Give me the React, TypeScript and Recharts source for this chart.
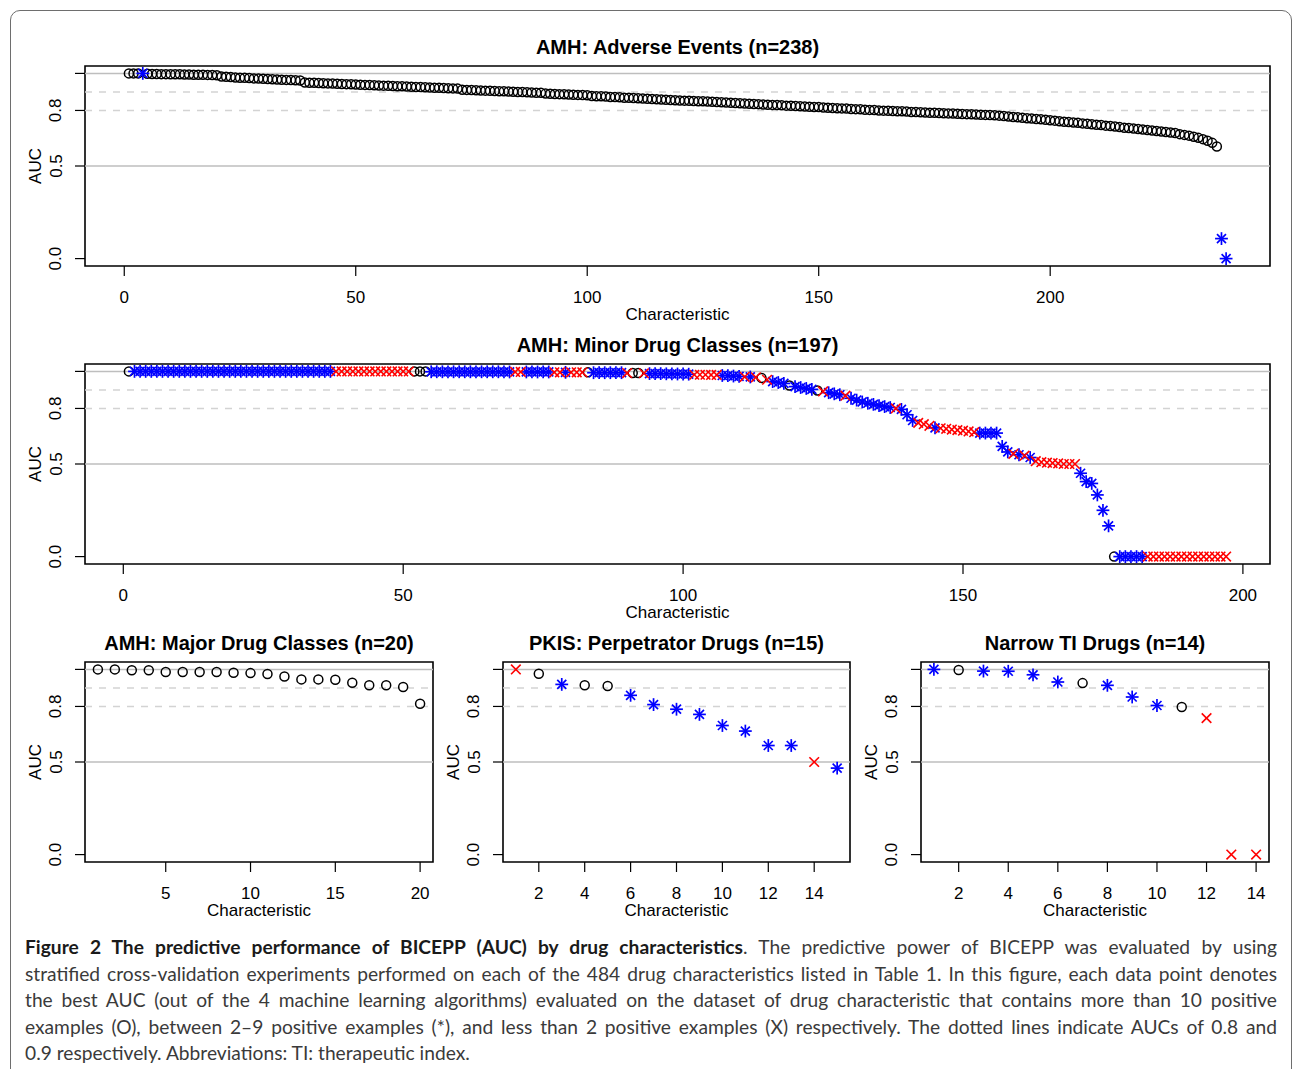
import React from 'react';
import { ScatterChart, Scatter, XAxis, YAxis, ReferenceLine, ReferenceArea } from 'recharts';

// AMH: Adverse Events, sorted AUC per characteristic
const adverseAuc = [
  1.000, 1.000, 1.000, 1.000, 0.998, 0.997, 0.997, 0.996, 0.996, 0.995,
  0.995, 0.995, 0.994, 0.994, 0.993, 0.993, 0.993, 0.992, 0.991, 0.990,
  0.983, 0.982, 0.980, 0.978, 0.977, 0.976, 0.975, 0.973, 0.972, 0.971,
  0.970, 0.968, 0.967, 0.966, 0.965, 0.964, 0.963, 0.962, 0.951, 0.950,
  0.949, 0.948, 0.947, 0.946, 0.945, 0.944, 0.943, 0.942, 0.941, 0.940,
  0.939, 0.938, 0.937, 0.936, 0.935, 0.934, 0.933, 0.932, 0.931, 0.930,
  0.929, 0.928, 0.927, 0.926, 0.925, 0.924, 0.923, 0.922, 0.921, 0.920,
  0.919, 0.918, 0.912, 0.911, 0.910, 0.909, 0.908, 0.907, 0.906, 0.905,
  0.904, 0.903, 0.902, 0.901, 0.900, 0.899, 0.898, 0.897, 0.896, 0.895,
  0.891, 0.890, 0.889, 0.888, 0.887, 0.886, 0.885, 0.884, 0.883, 0.882,
  0.878, 0.877, 0.876, 0.875, 0.873, 0.872, 0.871, 0.869, 0.868, 0.867,
  0.866, 0.864, 0.863, 0.862, 0.860, 0.859, 0.858, 0.856, 0.855, 0.854,
  0.853, 0.852, 0.851, 0.850, 0.849, 0.848, 0.847, 0.845, 0.844, 0.843,
  0.841, 0.840, 0.839, 0.837, 0.836, 0.835, 0.834, 0.832, 0.831, 0.830,
  0.829, 0.828, 0.826, 0.825, 0.824, 0.822, 0.821, 0.820, 0.819, 0.818,
  0.816, 0.815, 0.813, 0.812, 0.811, 0.810, 0.808, 0.807, 0.806, 0.804,
  0.803, 0.802, 0.800, 0.799, 0.798, 0.797, 0.796, 0.795, 0.794, 0.792,
  0.791, 0.790, 0.789, 0.788, 0.787, 0.786, 0.785, 0.784, 0.783, 0.782,
  0.781, 0.780, 0.779, 0.778, 0.777, 0.776, 0.775, 0.774, 0.772, 0.770,
  0.767, 0.765, 0.763, 0.760, 0.758, 0.756, 0.754, 0.752, 0.750, 0.747,
  0.745, 0.742, 0.739, 0.737, 0.735, 0.733, 0.730, 0.728, 0.725, 0.723,
  0.721, 0.718, 0.716, 0.713, 0.710, 0.707, 0.705, 0.702, 0.700, 0.697,
  0.694, 0.692, 0.689, 0.686, 0.684, 0.681, 0.678, 0.672, 0.668, 0.664,
  0.658, 0.652, 0.645, 0.636, 0.625, 0.605, 0.108, 0.000,
];
// o = more than 10 positives, * = 2-9 positives, x = less than 2
const adverseMarks = [
  'ooo*oooooo', 'oooooooooo', 'oooooooooo', 'oooooooooo', 'oooooooooo',
  'oooooooooo', 'oooooooooo', 'oooooooooo', 'oooooooooo', 'oooooooooo',
  'oooooooooo', 'oooooooooo', 'oooooooooo', 'oooooooooo', 'oooooooooo',
  'oooooooooo', 'oooooooooo', 'oooooooooo', 'oooooooooo', 'oooooooooo',
  'oooooooooo', 'oooooooooo', 'oooooooooo', 'oooooo**',
].join('');

// AMH: Minor Drug Classes
const minorAuc = [
  1.000, 1.000, 1.000, 1.000, 1.000, 1.000, 1.000, 1.000, 1.000, 1.000,
  1.000, 1.000, 1.000, 1.000, 1.000, 1.000, 1.000, 1.000, 1.000, 1.000,
  1.000, 1.000, 1.000, 1.000, 1.000, 1.000, 1.000, 1.000, 1.000, 1.000,
  1.000, 1.000, 1.000, 1.000, 1.000, 1.000, 1.000, 1.000, 1.000, 1.000,
  1.000, 1.000, 1.000, 1.000, 1.000, 1.000, 1.000, 1.000, 1.000, 1.000,
  1.000, 1.000, 1.000, 1.000, 0.998, 0.998, 0.998, 0.998, 0.998, 0.998,
  0.998, 0.998, 0.998, 0.998, 0.998, 0.998, 0.998, 0.998, 0.997, 0.997,
  0.997, 0.997, 0.997, 0.997, 0.997, 0.997, 0.995, 0.995, 0.995, 0.995,
  0.995, 0.995, 0.995, 0.993, 0.993, 0.993, 0.993, 0.993, 0.993, 0.991,
  0.991, 0.991, 0.990, 0.988, 0.988, 0.988, 0.987, 0.987, 0.986, 0.986,
  0.985, 0.982, 0.982, 0.982, 0.981, 0.981, 0.978, 0.977, 0.975, 0.973,
  0.971, 0.970, 0.968, 0.965, 0.955, 0.945, 0.940, 0.935, 0.924, 0.918,
  0.913, 0.908, 0.903, 0.897, 0.892, 0.885, 0.879, 0.874, 0.869, 0.855,
  0.845, 0.835, 0.828, 0.822, 0.815, 0.810, 0.805, 0.800, 0.795, 0.766,
  0.735, 0.722, 0.715, 0.706, 0.695, 0.693, 0.690, 0.686, 0.683, 0.680,
  0.676, 0.672, 0.667, 0.667, 0.667, 0.667, 0.595, 0.565, 0.555, 0.550,
  0.545, 0.535, 0.515, 0.510, 0.507, 0.505, 0.503, 0.500, 0.500, 0.500,
  0.450, 0.405, 0.395, 0.333, 0.250, 0.166, 0.000, 0.000, 0.000, 0.000,
  0.000, 0.000, 0.000, 0.000, 0.000, 0.000, 0.000, 0.000, 0.000, 0.000,
  0.000, 0.000, 0.000, 0.000, 0.000, 0.000, 0.000,
];
const minorMarks = [
  'o*********', '**********', '**********', '*******xxx', 'xxxxxxxxxx',
  'xooo******', '*********x', 'x*****xx*x', 'xxo******x', 'oox*******',
  '*xxxxx****', 'x*xox***o*', '***ox***x*', '*******x**', '*xxx*xxxxx',
  'xx******x*', 'x*xxxxxxxx', '******o***', '**xxxxxxxx', 'xxxxxxx',
].join('');

// AMH: Major Drug Classes
const majorAuc = [1.0, 1.0, 0.995, 0.995, 0.986, 0.986, 0.986, 0.986, 0.982, 0.98,
  0.975, 0.962, 0.946, 0.946, 0.944, 0.928, 0.914, 0.914, 0.905, 0.815];
const majorMarks = 'oooooooooooooooooooo';

// PKIS: Perpetrator Drugs
const pkisAuc = [1.0, 0.977, 0.919, 0.914, 0.91, 0.86, 0.81, 0.785, 0.757, 0.697,
  0.667, 0.589, 0.589, 0.5, 0.467];
const pkisMarks = 'xo*oo********x*';

// Narrow TI Drugs
const narrowAuc = [1.0, 0.997, 0.991, 0.99, 0.971, 0.932, 0.926, 0.914, 0.851, 0.805,
  0.797, 0.737, 0.0, 0.0];
const narrowMarks = '*o****o***oxxx';

const wideTicks = [0, 50, 100, 150, 200];
const majorTicks = [5, 10, 15, 20];
const smallTicks = [2, 4, 6, 8, 10, 12, 14];
const aucTicks = [0, 0.5, 0.8, 1];

const FONT = '"Liberation Sans", Arial, Helvetica, sans-serif';

const XTick = (props: any) => (
  <text x={props.x} y={props.y} textAnchor="middle" dominantBaseline="central"
    fontSize={17} fontFamily={FONT} fill="#000">
    {props.payload.value}
  </text>
);

const YTick = (props: any) => {
  const v = props.payload.value;
  if (v === 1) return <g />;
  return (
    <text x={props.x} y={props.y} textAnchor="middle" dominantBaseline="central"
      transform={`rotate(-90, ${props.x}, ${props.y})`}
      fontSize={17} fontFamily={FONT} fill="#000">
      {v.toFixed(1)}
    </text>
  );
};

const circleShape = (p: any) => (
  <circle cx={p.cx} cy={p.cy} r={4.5} fill="none" stroke="#000" strokeWidth={1.5} />
);

const starShape = (p: any) => {
  const d = 4.5;
  const a = 6.4;
  return (
    <g stroke="#0000ff" strokeWidth={1.7}>
      <line x1={p.cx - d} y1={p.cy - d} x2={p.cx + d} y2={p.cy + d} />
      <line x1={p.cx - d} y1={p.cy + d} x2={p.cx + d} y2={p.cy - d} />
      <line x1={p.cx - a} y1={p.cy} x2={p.cx + a} y2={p.cy} />
      <line x1={p.cx} y1={p.cy - a} x2={p.cx} y2={p.cy + a} />
    </g>
  );
};

const crossShape = (p: any) => {
  const d = 4.8;
  return (
    <g stroke="#ff0000" strokeWidth={1.6}>
      <line x1={p.cx - d} y1={p.cy - d} x2={p.cx + d} y2={p.cy + d} />
      <line x1={p.cx - d} y1={p.cy + d} x2={p.cx + d} y2={p.cy - d} />
    </g>
  );
};

type PanelProps = {
  title: string;
  plotLeft: number;
  plotRight: number;
  plotTop: number;
  values: number[];
  marks: string;
  xTicks: number[];
};

const Panel: React.FC<PanelProps> = ({ title, plotLeft, plotRight, plotTop, values, marks, xTicks }) => {
  const n = values.length;
  const pad = 0.04 * (n - 1);
  const xDomain = [1 - pad, n + pad];
  const pts = values.map((v, i) => ({ x: i + 1, y: v, m: marks[i] }));
  const circles = pts.filter((p) => p.m === 'o');
  const stars = pts.filter((p) => p.m === '*');
  const crosses = pts.filter((p) => p.m === 'x');

  const plotH = 200;
  const chartLeft = plotLeft - 85;
  const chartTop = plotTop - 5;
  const width = plotRight - chartLeft + 10;
  const height = plotH + 5 + 55;
  const midX = (plotLeft + plotRight) / 2;
  const midY = plotTop + plotH / 2;

  return (
    <>
      <div style={{
        position: 'absolute', left: plotLeft - 100, width: plotRight - plotLeft + 200,
        top: plotTop - 31, height: 24, lineHeight: '24px', textAlign: 'center',
        fontSize: 20, fontWeight: 'bold', fontFamily: FONT,
      }}>{title}</div>
      <div style={{ position: 'absolute', left: chartLeft, top: chartTop }}>
        <ScatterChart width={width} height={height} margin={{ top: 5, right: 10, bottom: 0, left: 0 }}>
          <XAxis type="number" dataKey="x" domain={xDomain} ticks={xTicks} allowDataOverflow
            interval={0} axisLine={false} stroke="#000" tickLine={{ stroke: '#000', strokeWidth: 1.2 }}
            tickSize={10} tickMargin={21} tick={(p: any) => <XTick {...p} />} height={55} />
          <YAxis type="number" dataKey="y" domain={[-0.04, 1.04]} ticks={aucTicks} allowDataOverflow
            interval={0} axisLine={false} stroke="#000" tickLine={{ stroke: '#000', strokeWidth: 1.2 }}
            tickSize={10} tickMargin={19} tick={(p: any) => <YTick {...p} />} width={85} />
          <ReferenceLine y={1} stroke="#bebebe" strokeWidth={1.5} />
          <ReferenceLine y={0.5} stroke="#bebebe" strokeWidth={1.5} />
          <ReferenceLine y={0.9} stroke="#d3d3d3" strokeWidth={1.5} strokeDasharray="7 7" />
          <ReferenceLine y={0.8} stroke="#d3d3d3" strokeWidth={1.5} strokeDasharray="7 7" />
          <Scatter data={circles} shape={circleShape} isAnimationActive={false} />
          <Scatter data={stars} shape={starShape} isAnimationActive={false} />
          <Scatter data={crosses} shape={crossShape} isAnimationActive={false} />
          <ReferenceArea x1={xDomain[0]} x2={xDomain[1]} y1={-0.04} y2={1.04} ifOverflow="visible"
            fill="none" fillOpacity={0} stroke="#000" strokeWidth={1.6} />
        </ScatterChart>
      </div>
      <div style={{
        position: 'absolute', left: midX - 100, width: 200, top: plotTop + plotH + 39,
        height: 20, lineHeight: '20px', textAlign: 'center', fontSize: 17, fontFamily: FONT,
      }}>Characteristic</div>
      <div style={{
        position: 'absolute', left: plotLeft - 49 - 30, width: 60, top: midY - 10,
        height: 20, lineHeight: '20px', textAlign: 'center', fontSize: 17, fontFamily: FONT,
        transform: 'rotate(-90deg)',
      }}>AUC</div>
    </>
  );
};

const lineStyle: React.CSSProperties = {
  height: 26.5, lineHeight: '26.5px', textAlign: 'justify', textAlignLast: 'justify',
  whiteSpace: 'nowrap',
};

const App: React.FC = () => (
  <div style={{ position: 'absolute', left: 0, top: 0, width: 1292, height: 1069, overflow: 'hidden', background: '#fff' }}>
    <div style={{
      position: 'absolute', left: 10, top: 10, width: 1280, height: 1120,
      border: '1.5px solid #6e6e6e', borderRadius: 10,
    }} />
    <Panel title="AMH: Adverse Events (n=238)" plotLeft={85} plotRight={1270} plotTop={66}
      values={adverseAuc} marks={adverseMarks} xTicks={wideTicks} />
    <Panel title="AMH: Minor Drug Classes (n=197)" plotLeft={85} plotRight={1270} plotTop={364}
      values={minorAuc} marks={minorMarks} xTicks={wideTicks} />
    <Panel title="AMH: Major Drug Classes (n=20)" plotLeft={85} plotRight={433} plotTop={662}
      values={majorAuc} marks={majorMarks} xTicks={majorTicks} />
    <Panel title="PKIS: Perpetrator Drugs (n=15)" plotLeft={503} plotRight={850} plotTop={662}
      values={pkisAuc} marks={pkisMarks} xTicks={smallTicks} />
    <Panel title="Narrow TI Drugs (n=14)" plotLeft={921} plotRight={1269} plotTop={662}
      values={narrowAuc} marks={narrowMarks} xTicks={smallTicks} />
    <div style={{
      position: 'absolute', left: 25, top: 934, width: 1252, fontFamily: 'Lato, sans-serif',
      fontSize: 19.2, color: '#3a3a3a',
    }}>
      <div style={lineStyle}>
        <b style={{ color: '#1a1a1a' }}>Figure 2 The predictive performance of BICEPP (AUC) by drug characteristics</b>. The predictive power of BICEPP was evaluated by using
      </div>
      <div style={lineStyle}>
        stratified cross-validation experiments performed on each of the 484 drug characteristics listed in Table 1. In this figure, each data point denotes
      </div>
      <div style={lineStyle}>
        the best AUC (out of the 4 machine learning algorithms) evaluated on the dataset of drug characteristic that contains more than 10 positive
      </div>
      <div style={lineStyle}>
        examples (O), between 2–9 positive examples (*), and less than 2 positive examples (X) respectively. The dotted lines indicate AUCs of 0.8 and
      </div>
      <div style={{ ...lineStyle, textAlign: 'left', textAlignLast: 'left' }}>
        0.9 respectively. Abbreviations: TI: therapeutic index.
      </div>
    </div>
  </div>
);

export default App;
